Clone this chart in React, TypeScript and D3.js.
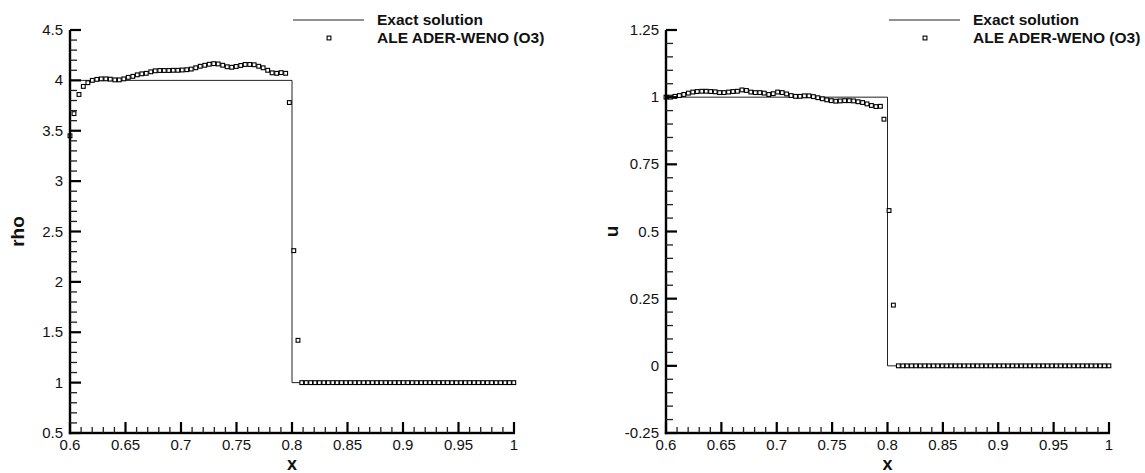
import React from 'react';
import * as d3 from 'd3';

const W = 1145;
const H = 473;
const FONT = "'Liberation Sans', Arial, Helvetica, sans-serif";

// ---------- tick labels ----------
const xTickLabels = ['0.6', '0.65', '0.7', '0.75', '0.8', '0.85', '0.9', '0.95', '1'];
const rhoTickLabels = ['0.5', '1', '1.5', '2', '2.5', '3', '3.5', '4', '4.5'];
const uTickLabels = ['-0.25', '0', '0.25', '0.5', '0.75', '1', '1.25'];

// ---------- exact solutions ----------
const exactX = [0.6, 0.8, 0.8, 1.0];
const exactRho = [4, 4, 1, 1];
const exactU = [1, 1, 0, 0];

// ---------- numerical (ALE ADER-WENO O3): density ----------
const rhoX = [
  0.6000, 0.6036, 0.6081,
  0.6120, 0.6161, 0.6201, 0.6242, 0.6282, 0.6323, 0.6363, 0.6404, 0.6444, 0.6485,
  0.6525, 0.6566, 0.6606, 0.6647, 0.6687, 0.6728, 0.6768, 0.6809, 0.6849, 0.6890,
  0.6930, 0.6971, 0.7011, 0.7052, 0.7092, 0.7133, 0.7173, 0.7214, 0.7254, 0.7295,
  0.7335, 0.7376, 0.7416, 0.7457, 0.7497, 0.7538, 0.7578, 0.7619, 0.7659, 0.7700,
  0.7740, 0.7781, 0.7821, 0.7862, 0.7902, 0.7943,
  0.7976, 0.8016, 0.8054,
  0.8088, 0.8128, 0.8168, 0.8207, 0.8247, 0.8287, 0.8327, 0.8367, 0.8406, 0.8446,
  0.8486, 0.8526, 0.8566, 0.8605, 0.8645, 0.8685, 0.8725, 0.8765, 0.8804, 0.8844,
  0.8884, 0.8924, 0.8964, 0.9003, 0.9043, 0.9083, 0.9123, 0.9163, 0.9202, 0.9242,
  0.9282, 0.9322, 0.9362, 0.9401, 0.9441, 0.9481, 0.9521, 0.9561, 0.9600, 0.9640,
  0.9680, 0.9720, 0.9760, 0.9799, 0.9839, 0.9879, 0.9919, 0.9959, 0.9998,
];
const rhoY = [
  3.45, 3.67, 3.86,
  3.94, 3.977, 4.0, 4.01, 4.015, 4.015, 4.012, 4.005, 4.005, 4.015,
  4.03, 4.04, 4.055, 4.065, 4.07, 4.085, 4.095, 4.098, 4.098, 4.098,
  4.1, 4.1, 4.103, 4.106, 4.112, 4.125, 4.14, 4.15, 4.16, 4.166,
  4.163, 4.15, 4.135, 4.13, 4.138, 4.148, 4.158, 4.158, 4.155, 4.14,
  4.125, 4.1, 4.075, 4.07, 4.077, 4.07,
  3.78, 2.31, 1.42,
  1, 1, 1, 1, 1, 1, 1, 1, 1, 1,
  1, 1, 1, 1, 1, 1, 1, 1, 1, 1,
  1, 1, 1, 1, 1, 1, 1, 1, 1, 1,
  1, 1, 1, 1, 1, 1, 1, 1, 1, 1,
  1, 1, 1, 1, 1, 1, 1, 1, 1,
];

// ---------- numerical: velocity ----------
const uX = [
  0.6000, 0.6040, 0.6081, 0.6121, 0.6161, 0.6202, 0.6242, 0.6282, 0.6323, 0.6363,
  0.6403, 0.6444, 0.6484, 0.6524, 0.6565, 0.6605, 0.6645, 0.6686, 0.6726, 0.6766,
  0.6807, 0.6847, 0.6887, 0.6928, 0.6968, 0.7008, 0.7049, 0.7089, 0.7129, 0.7170,
  0.7210, 0.7250, 0.7291, 0.7331, 0.7371, 0.7412, 0.7452, 0.7492, 0.7533, 0.7573,
  0.7613, 0.7654, 0.7694, 0.7734, 0.7775, 0.7815, 0.7855, 0.7896, 0.7936,
  0.7968, 0.8014, 0.8053,
  0.8098, 0.8138, 0.8177, 0.8217, 0.8256, 0.8296, 0.8336, 0.8375, 0.8415, 0.8454,
  0.8494, 0.8534, 0.8573, 0.8613, 0.8652, 0.8692, 0.8732, 0.8771, 0.8811, 0.8850,
  0.8890, 0.8930, 0.8969, 0.9009, 0.9048, 0.9088, 0.9128, 0.9167, 0.9207, 0.9246,
  0.9286, 0.9326, 0.9365, 0.9405, 0.9444, 0.9484, 0.9524, 0.9563, 0.9603, 0.9642,
  0.9682, 0.9722, 0.9761, 0.9801, 0.9840, 0.9880, 0.9920, 0.9959, 0.9999,
];
const uY = [
  1.0, 1.0, 1.003, 1.006, 1.01, 1.015, 1.019, 1.021, 1.022, 1.022,
  1.021, 1.02, 1.017, 1.017, 1.019, 1.021, 1.022, 1.027, 1.025, 1.019,
  1.017, 1.017, 1.015, 1.01, 1.013, 1.019, 1.017, 1.012, 1.006, 1.003,
  1.003, 1.005, 1.005, 1.002, 0.998, 0.994, 0.99, 0.987, 0.985, 0.986,
  0.987, 0.987, 0.986, 0.983, 0.98, 0.975, 0.969, 0.965, 0.966,
  0.918, 0.578, 0.226,
  0, 0, 0, 0, 0, 0, 0, 0, 0, 0,
  0, 0, 0, 0, 0, 0, 0, 0, 0, 0,
  0, 0, 0, 0, 0, 0, 0, 0, 0, 0,
  0, 0, 0, 0, 0, 0, 0, 0, 0, 0,
  0, 0, 0, 0, 0, 0, 0, 0, 0,
];

const legendLabels = ['Exact solution', 'ALE ADER-WENO (O3)'];

type PanelProps = {
  left: number;
  right: number;
  top: number;
  bottom: number;
  yDomain: [number, number];
  yTickLabels: string[];
  yMinorCount: number;
  yLabel: string;
  yLabelX: number;
  exactY: number[];
  numX: number[];
  numY: number[];
  legendX: number;
};

function Panel(p: PanelProps) {
  const x = d3.scaleLinear().domain([0.6, 1]).range([p.left, p.right]);
  const y = d3.scaleLinear().domain(p.yDomain).range([p.bottom, p.top]);
  const xMajor = xTickLabels.map(Number);
  const yMajor = p.yTickLabels.map(Number);
  const isMajor = (arr: number[], v: number) => arr.some((m) => Math.abs(m - v) < 1e-9);
  const xMinor = x.ticks(40).filter((v) => !isMajor(xMajor, v));
  const yMinor = y.ticks(p.yMinorCount).filter((v) => !isMajor(yMajor, v));

  const line = d3
    .line<number>()
    .x((_, i) => x(exactX[i]))
    .y((d) => y(d));

  const ms = 3.8;
  const lx = p.legendX;

  return (
    <g fontFamily={FONT}>
      {/* exact solution */}
      <path d={line(p.exactY) || ''} fill="none" stroke="#222" strokeWidth={1} />
      {/* numerical markers */}
      {p.numX.map((xv, i) => (
        <rect
          key={i}
          x={x(xv) - ms / 2}
          y={y(p.numY[i]) - ms / 2}
          width={ms}
          height={ms}
          fill="white"
          stroke="#000"
          strokeWidth={1.1}
        />
      ))}
      {/* axes as filled bars */}
      <rect x={p.left - 1.2} y={p.top} width={2.4} height={p.bottom - p.top + 1.2} fill="#000" />
      <rect x={p.left - 1.2} y={p.bottom - 1.2} width={p.right - p.left + 2.2} height={2.4} fill="#000" />
      {xMajor.map((v, i) => (
        <rect key={'xt' + i} x={x(v) - 1.1} y={p.bottom - 11} width={2.2} height={11} fill="#000" />
      ))}
      {xMinor.map((v, i) => (
        <rect key={'xn' + i} x={x(v) - 0.65} y={p.bottom - 6} width={1.3} height={6} fill="#222" />
      ))}
      {yMajor.map((v, i) => (
        <rect key={'yt' + i} x={p.left} y={y(v) - 1.1} width={11} height={2.2} fill="#000" />
      ))}
      {yMinor.map((v, i) => (
        <rect key={'yn' + i} x={p.left} y={y(v) - 0.65} width={7} height={1.3} fill="#222" />
      ))}
      {xMajor.map((v, i) => (
        <text key={'xl' + i} x={x(v)} y={p.bottom + 17} fontSize={15} textAnchor="middle" fill="#111">
          {xTickLabels[i]}
        </text>
      ))}
      {yMajor.map((v, i) => (
        <text key={'yl' + i} x={p.left - 7} y={y(v) + 5} fontSize={15} textAnchor="end" fill="#111">
          {p.yTickLabels[i]}
        </text>
      ))}
      {/* axis titles */}
      <text x={(p.left + p.right) / 2} y={470} fontSize={18} fontWeight="bold" textAnchor="middle" fill="#111">
        x
      </text>
      <text
        transform={`translate(${p.yLabelX},${(p.top + p.bottom) / 2}) rotate(-90)`}
        fontSize={19}
        fontWeight="bold"
        textAnchor="middle"
        fill="#111"
      >
        {p.yLabel}
      </text>
      {/* legend */}
      <line x1={lx} x2={lx + 71} y1={20} y2={20} stroke="#222" strokeWidth={1} />
      <text x={lx + 84} y={24.5} fontSize={15.5} fontWeight="bold" fill="#111">
        {legendLabels[0]}
      </text>
      <rect x={lx + 36 - ms / 2} y={38 - ms / 2} width={ms} height={ms} fill="white" stroke="#000" strokeWidth={1.1} />
      <text x={lx + 84} y={42.5} fontSize={15.5} fontWeight="bold" fill="#111">
        {legendLabels[1]}
      </text>
    </g>
  );
}

export default function App() {
  return (
    <svg width={W} height={H} style={{ position: 'absolute', left: 0, top: 0 }}>
      <Panel
        left={70}
        right={514}
        top={30}
        bottom={433}
        yDomain={[0.5, 4.5]}
        yTickLabels={rhoTickLabels}
        yMinorCount={40}
        yLabel="rho"
        yLabelX={24}
        exactY={exactRho}
        numX={rhoX}
        numY={rhoY}
        legendX={293}
      />
      <Panel
        left={666}
        right={1109}
        top={30}
        bottom={433}
        yDomain={[-0.25, 1.25]}
        yTickLabels={uTickLabels}
        yMinorCount={30}
        yLabel="u"
        yLabelX={618}
        exactY={exactU}
        numX={uX}
        numY={uY}
        legendX={889}
      />
    </svg>
  );
}
